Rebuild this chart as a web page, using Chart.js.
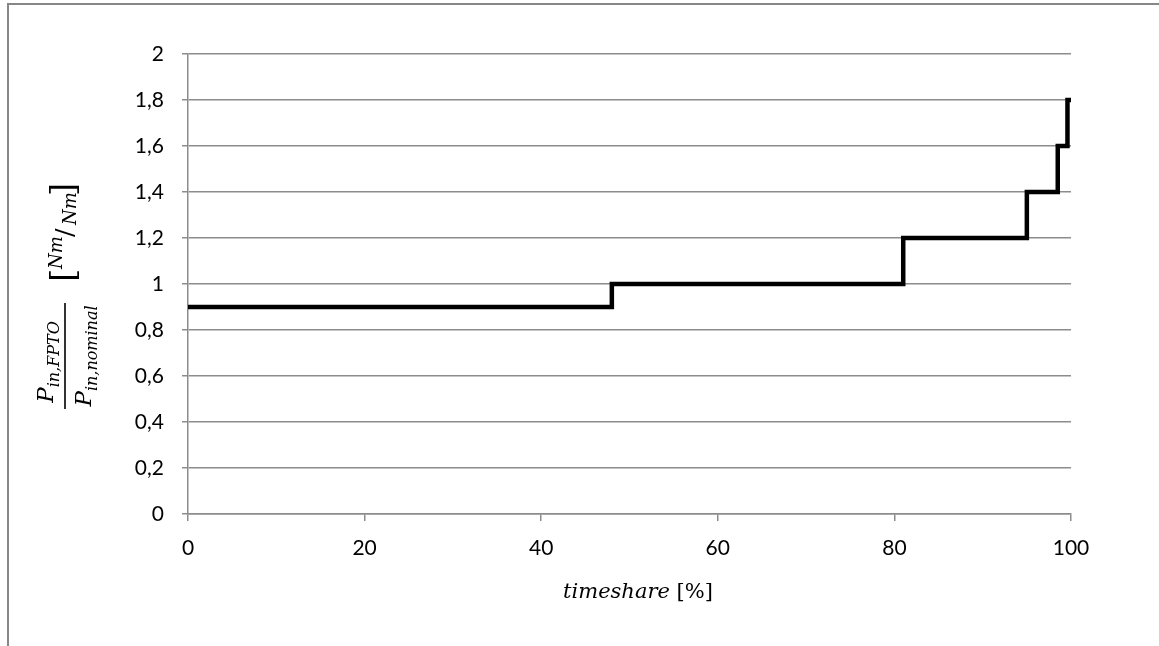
<!DOCTYPE html>
<html>
<head>
<meta charset="utf-8">
<script src="https://cdn.jsdelivr.net/npm/chart.js"></script>
<style>
  body { margin: 0; background: #fff; }
  canvas { display: block; }
</style>
</head>
<body>
<canvas id="dutyChart" width="1159" height="646"></canvas>
<script>
// step breakpoints of the load spectrum
var timeshare = [0, 48, 81, 95, 98.5, 99.6, 100];
var torqueRatio = [0.9, 1.0, 1.2, 1.4, 1.6, 1.8, 1.8];

var gridGray = '#8c8c8c';
var serif = '"DejaVu Serif"';

document.addEventListener('DOMContentLoaded', function(){

  var points = timeshare.map(function(x, i) {
    return { x: x, y: torqueRatio[i] };
  });

  // outer frame of the chart box
  var framePlugin = {
    id: 'frame',
    beforeDraw: function(chart) {
      var ctx = chart.ctx;
      ctx.save();
      ctx.fillStyle = '#fff';
      ctx.fillRect(0, 0, chart.width, chart.height);
      ctx.strokeStyle = '#878787';
      ctx.lineWidth = 2;
      ctx.beginPath();
      ctx.moveTo(8, chart.height);
      ctx.lineTo(8, 4);
      ctx.lineTo(chart.width, 4);
      ctx.stroke();
      ctx.restore();
    }
  };

  // axis titles with sub/superscripts
  var titlesPlugin = {
    id: 'titles',
    afterDraw: function(chart) {
      var ctx = chart.ctx;
      var area = chart.chartArea;
      ctx.save();
      ctx.fillStyle = '#000';
      ctx.textBaseline = 'alphabetic';

      // x title: italic word + upright unit
      var word = 'timeshare';
      var unit = ' [%]';
      ctx.font = 'italic 21px ' + serif;
      var w1 = ctx.measureText(word).width;
      ctx.font = '21px ' + serif;
      var w2 = ctx.measureText(unit).width;
      var x0 = 638 - (w1 + w2) / 2;
      ctx.font = 'italic 21px ' + serif;
      ctx.fillText(word, x0, 598);
      ctx.font = '21px ' + serif;
      ctx.fillText(unit, x0 + w1, 598);

      // y title, rotated
      ctx.translate(65, 296);
      ctx.rotate(-Math.PI / 2);

      function term(main, sub, center, base) {
        ctx.font = 'italic 23px ' + serif;
        var a = ctx.measureText(main).width;
        ctx.font = 'italic 16px ' + serif;
        var b = ctx.measureText(sub).width;
        var s = center - (a + b) / 2;
        ctx.font = 'italic 23px ' + serif;
        ctx.fillText(main, s, base);
        ctx.font = 'italic 16px ' + serif;
        ctx.fillText(sub, s + a, base + 6);
      }
      // fraction bar
      ctx.fillRect(-113, -0.8, 106, 1.6);
      term('P', 'in,FPTO', -66, -12);
      term('P', 'in,nominal', -60, 26);

      // [Nm/Nm]
      ctx.font = '34px ' + serif;
      ctx.textBaseline = 'middle';
      ctx.fillText('[', 14, 0);
      ctx.fillText(']', 100, 0);
      ctx.textBaseline = 'alphabetic';
      ctx.font = 'italic 18px ' + serif;
      ctx.fillText('Nm', 27, -3);
      ctx.font = '25px ' + serif;
      ctx.fillText('/', 59, 8);
      ctx.font = 'italic 18px ' + serif;
      ctx.fillText('Nm', 71, 11);
      ctx.restore();
    }
  };

  var ctx = document.getElementById('dutyChart').getContext('2d');
  new Chart(ctx, {
    type: 'line',
    data: {
      datasets: [{
        data: points,
        borderColor: '#000',
        borderWidth: 4.5,
        pointRadius: 0,
        stepped: 'before',
        fill: false
      }]
    },
    options: {
      responsive: false,
      animation: false,
      layout: { padding: { top: 54, right: 88, left: 0, bottom: 0 } },
      plugins: { legend: { display: false }, tooltip: { enabled: false } },
      scales: {
        x: {
          type: 'linear',
          min: 0,
          max: 100,
          afterFit: function(scale) { scale.height = 132; },
          ticks: {
            stepSize: 20,
            color: '#000',
            padding: 15,
            font: { family: 'Lato', size: 21 }
          },
          grid: {
            drawOnChartArea: false,
            drawTicks: true,
            tickLength: 7,
            color: gridGray,
            lineWidth: 1.5
          },
          border: { display: true, color: gridGray, width: 1.5 }
        },
        y: {
          min: 0,
          max: 2,
          afterFit: function(scale) { scale.width = 188; },
          ticks: {
            stepSize: 0.2,
            color: '#000',
            padding: 18,
            font: { family: 'Lato', size: 21 },
            callback: function(v) {
              var r = Math.round(v * 10) / 10;
              return String(r).replace('.', ',');
            }
          },
          grid: {
            drawTicks: true,
            tickLength: 6,
            color: gridGray,
            lineWidth: 1.5
          },
          border: { display: true, color: gridGray, width: 1.5 }
        }
      }
    },
    plugins: [framePlugin, titlesPlugin]
  });
});
</script>
</body>
</html>
